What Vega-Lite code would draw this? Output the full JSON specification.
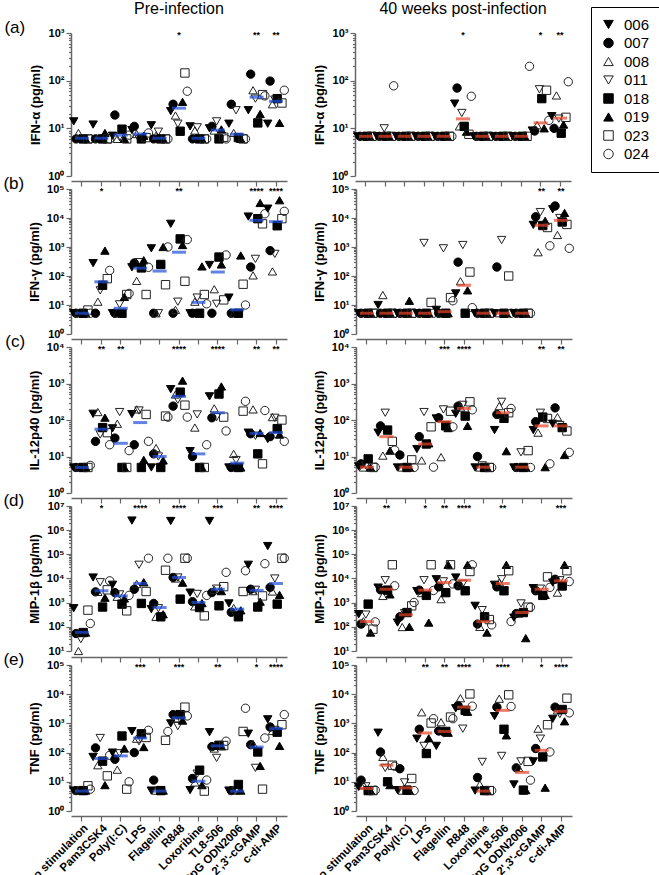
{
"$schema": "https://vega.github.io/schema/vega-lite/v6.json",
"background": "white",
"padding": {"left": 3, "top": 1, "right": 1, "bottom": 18},
"spacing": -12,
"datasets": {"d": [
{"r":"a","t":"Pre-infection","s":"no stimulation","006":14,"007":6,"008":8,"011":6,"018":6,"019":6,"023":6,"024":6,"m":6.2,"g":""},
{"r":"a","t":"Pre-infection","s":"Pam3CSK4","006":12,"007":6,"008":6,"011":6,"018":6,"019":8,"023":6,"024":6,"m":6.2,"g":""},
{"r":"a","t":"Pre-infection","s":"Poly(I:C)","006":7,"007":19,"008":6,"011":6.5,"018":9.6,"019":6,"023":6,"024":7.2,"m":7.2,"g":""},
{"r":"a","t":"Pre-infection","s":"LPS","006":9.2,"007":11,"008":7.6,"011":6,"018":6,"019":7,"023":6.4,"024":8,"m":7.6,"g":""},
{"r":"a","t":"Pre-infection","s":"Flagellin","006":11.6,"007":6,"008":7,"011":8.5,"018":6,"019":6,"023":6,"024":6,"m":6.2,"g":""},
{"r":"a","t":"Pre-infection","s":"R848","006":23,"007":32,"008":18.6,"011":12.5,"018":8.7,"019":36,"023":145,"024":60,"m":26.5,"g":"*"},
{"r":"a","t":"Pre-infection","s":"Loxoribine","006":11,"007":6,"008":9,"011":10.5,"018":6,"019":6,"023":6,"024":6,"m":6.2,"g":""},
{"r":"a","t":"Pre-infection","s":"TL8-506","006":10,"007":11,"008":9,"011":14,"018":6,"019":9.5,"023":6.5,"024":6,"m":9.2,"g":""},
{"r":"a","t":"Pre-infection","s":"CpG ODN2006","006":12.5,"007":32,"008":8,"011":24,"018":6.4,"019":6,"023":6,"024":6,"m":7.5,"g":""},
{"r":"a","t":"Pre-infection","s":"2',3'-cGAMP","006":24,"007":137,"008":63,"011":42,"018":13,"019":20,"023":51,"024":48,"m":45,"g":"**"},
{"r":"a","t":"Pre-infection","s":"c-di-AMP","006":12.5,"007":98,"008":32,"011":40,"018":42,"019":13,"023":34,"024":63,"m":37,"g":"**"},
{"r":"a","t":"40 weeks post-infection","s":"no stimulation","006":6.8,"007":6.8,"008":6.8,"011":6.8,"018":6.8,"019":6.8,"023":6.8,"024":6.8,"m":6.8,"g":""},
{"r":"a","t":"40 weeks post-infection","s":"Pam3CSK4","006":6.8,"007":6.8,"008":6.8,"011":10,"018":6.8,"019":6.8,"023":6.8,"024":78,"m":6.8,"g":""},
{"r":"a","t":"40 weeks post-infection","s":"Poly(I:C)","006":6.8,"007":6.8,"008":6.8,"011":6.8,"018":6.8,"019":6.8,"023":6.8,"024":6.8,"m":6.8,"g":""},
{"r":"a","t":"40 weeks post-infection","s":"LPS","006":6.8,"007":6.8,"008":6.8,"011":6.8,"018":6.8,"019":6.8,"023":6.8,"024":6.8,"m":6.8,"g":""},
{"r":"a","t":"40 weeks post-infection","s":"Flagellin","006":6.8,"007":6.8,"008":6.8,"011":6.8,"018":6.8,"019":6.8,"023":6.8,"024":6.8,"m":6.8,"g":""},
{"r":"a","t":"40 weeks post-infection","s":"R848","006":33,"007":70,"008":11,"011":21,"018":11,"019":8.5,"023":7.5,"024":47,"m":15.8,"g":"*"},
{"r":"a","t":"40 weeks post-infection","s":"Loxoribine","006":6.8,"007":6.8,"008":6.8,"011":6.8,"018":6.8,"019":6.8,"023":6.8,"024":6.8,"m":6.8,"g":""},
{"r":"a","t":"40 weeks post-infection","s":"TL8-506","006":6.8,"007":6.8,"008":6.8,"011":6.8,"018":6.8,"019":6.8,"023":6.8,"024":6.8,"m":6.8,"g":""},
{"r":"a","t":"40 weeks post-infection","s":"CpG ODN2006","006":6.8,"007":6.8,"008":6.8,"011":6.8,"018":6.8,"019":6.8,"023":6.8,"024":200,"m":6.8,"g":""},
{"r":"a","t":"40 weeks post-infection","s":"2',3'-cGAMP","006":9,"007":8.8,"008":11.6,"011":66,"018":42,"019":10,"023":63,"024":14.7,"m":13,"g":"*"},
{"r":"a","t":"40 weeks post-infection","s":"c-di-AMP","006":18,"007":10,"008":49,"011":16,"018":7.9,"019":12,"023":17,"024":95,"m":16.4,"g":"**"},
{"r":"b","t":"Pre-infection","s":"no stimulation","006":5.2,"007":5.2,"008":5.2,"011":5.2,"018":5.2,"019":5.2,"023":6.7,"024":5.2,"m":5.2,"g":""},
{"r":"b","t":"Pre-infection","s":"Pam3CSK4","006":277,"007":5.2,"008":13,"011":32,"018":48,"019":750,"023":81,"024":156,"m":63,"g":"*"},
{"r":"b","t":"Pre-infection","s":"Poly(I:C)","006":5.2,"007":5.2,"008":5.2,"011":10.5,"018":5.2,"019":19,"023":23,"024":25,"m":7.7,"g":""},
{"r":"b","t":"Pre-infection","s":"LPS","006":200,"007":280,"008":68,"011":300,"018":190,"019":350,"023":23,"024":200,"m":187,"g":""},
{"r":"b","t":"Pre-infection","s":"Flagellin","006":900,"007":5.2,"008":5.2,"011":5.2,"018":250,"019":1000,"023":50,"024":1000,"m":148,"g":""},
{"r":"b","t":"Pre-infection","s":"R848","006":6300,"007":5.2,"008":6.8,"011":13,"018":1900,"019":1170,"023":66,"024":1800,"m":660,"g":"**"},
{"r":"b","t":"Pre-infection","s":"Loxoribine","006":5.2,"007":5.2,"008":13,"011":18,"018":5.2,"019":214,"023":23,"024":11,"m":12.3,"g":""},
{"r":"b","t":"Pre-infection","s":"TL8-506","006":240,"007":5.2,"008":35,"011":11,"018":450,"019":250,"023":15,"024":530,"m":137,"g":""},
{"r":"b","t":"Pre-infection","s":"CpG ODN2006","006":18,"007":5.2,"008":5.2,"011":5.2,"018":5.2,"019":510,"023":52,"024":10,"m":6.8,"g":""},
{"r":"b","t":"Pre-infection","s":"2',3'-cGAMP","006":11200,"007":204,"008":105,"011":390,"018":9500,"019":33000,"023":6300,"024":14000,"m":8300,"g":"****"},
{"r":"b","t":"Pre-infection","s":"c-di-AMP","006":21000,"007":750,"008":144,"011":580,"018":5400,"019":41000,"023":9500,"024":17000,"m":7500,"g":"****"},
{"r":"b","t":"40 weeks post-infection","s":"no stimulation","006":5.2,"007":5.2,"008":5.2,"011":5.2,"018":5.2,"019":5.2,"023":5.2,"024":5.2,"m":5.2,"g":""},
{"r":"b","t":"40 weeks post-infection","s":"Pam3CSK4","006":10,"007":5.2,"008":22,"011":5.2,"018":5.2,"019":5.2,"023":5.2,"024":5.2,"m":5.2,"g":""},
{"r":"b","t":"40 weeks post-infection","s":"Poly(I:C)","006":5.2,"007":5.2,"008":5.2,"011":5.2,"018":5.2,"019":14,"023":5.2,"024":5.2,"m":5.2,"g":""},
{"r":"b","t":"40 weeks post-infection","s":"LPS","006":5.2,"007":5.2,"008":5.2,"011":1380,"018":5.2,"019":5.2,"023":12.3,"024":5.2,"m":5.2,"g":""},
{"r":"b","t":"40 weeks post-infection","s":"Flagellin","006":6.8,"007":5.2,"008":5.2,"011":900,"018":5.2,"019":5.2,"023":18,"024":14,"m":5.9,"g":""},
{"r":"b","t":"40 weeks post-infection","s":"R848","006":25,"007":300,"008":66,"011":1170,"018":5.2,"019":32,"023":137,"024":8.1,"m":48,"g":""},
{"r":"b","t":"40 weeks post-infection","s":"Loxoribine","006":5.2,"007":5.2,"008":5.2,"011":5.2,"018":5.2,"019":5.2,"023":5.2,"024":5.2,"m":5.2,"g":""},
{"r":"b","t":"40 weeks post-infection","s":"TL8-506","006":5.2,"007":204,"008":5.2,"011":1740,"018":5.2,"019":5.2,"023":100,"024":5.2,"m":5.2,"g":""},
{"r":"b","t":"40 weeks post-infection","s":"CpG ODN2006","006":5.2,"007":5.2,"008":5.2,"011":5.2,"018":5.2,"019":5.2,"023":5.2,"024":5.2,"m":5.2,"g":""},
{"r":"b","t":"40 weeks post-infection","s":"2',3'-cGAMP","006":5800,"007":11000,"008":660,"011":16000,"018":5500,"019":8000,"023":4700,"024":1100,"m":5600,"g":"**"},
{"r":"b","t":"40 weeks post-infection","s":"c-di-AMP","006":20000,"007":26000,"008":2600,"011":10000,"018":7300,"019":15000,"023":6000,"024":900,"m":8300,"g":"**"},
{"r":"c","t":"Pre-infection","s":"no stimulation","006":5,"007":5,"008":5,"011":5,"018":5,"019":5,"023":5,"024":5.7,"m":5,"g":""},
{"r":"c","t":"Pre-infection","s":"Pam3CSK4","006":148,"007":26,"008":165,"011":40,"018":62,"019":116,"023":45,"024":21,"m":56,"g":"**"},
{"r":"c","t":"Pre-infection","s":"Poly(I:C)","006":59,"007":32,"008":79,"011":165,"018":5,"019":5,"023":5,"024":14.5,"m":23,"g":"**"},
{"r":"c","t":"Pre-infection","s":"LPS","006":145,"007":21,"008":195,"011":182,"018":5,"019":8.1,"023":142,"024":26,"m":85,"g":""},
{"r":"c","t":"Pre-infection","s":"Flagellin","006":5,"007":11.8,"008":17,"011":10,"018":5,"019":7.8,"023":128,"024":120,"m":10,"g":""},
{"r":"c","t":"Pre-infection","s":"R848","006":700,"007":240,"008":500,"011":360,"018":580,"019":1200,"023":255,"024":120,"m":445,"g":"****"},
{"r":"c","t":"Pre-infection","s":"Loxoribine","006":14,"007":10,"008":62,"011":142,"018":5,"019":5,"023":5,"024":21,"m":11.8,"g":""},
{"r":"c","t":"Pre-infection","s":"TL8-506","006":445,"007":115,"008":208,"011":120,"018":515,"019":830,"023":120,"024":50,"m":158,"g":"****"},
{"r":"c","t":"Pre-infection","s":"CpG ODN2006","006":5,"007":5,"008":11.8,"011":8,"018":5,"019":5,"023":175,"024":325,"m":6.6,"g":""},
{"r":"c","t":"Pre-infection","s":"2',3'-cGAMP","006":45,"007":42,"008":195,"011":37,"018":11.8,"019":44,"023":6.3,"024":182,"m":43,"g":"**"},
{"r":"c","t":"Pre-infection","s":"c-di-AMP","006":30,"007":35,"008":120,"011":115,"018":58,"019":40,"023":100,"024":26,"m":45,"g":"**"},
{"r":"c","t":"40 weeks post-infection","s":"no stimulation","006":5.3,"007":6.3,"008":5,"011":5.7,"018":8.6,"019":5,"023":5,"024":5.1,"m":5.1,"g":""},
{"r":"c","t":"40 weeks post-infection","s":"Pam3CSK4","006":45,"007":69,"008":10.6,"011":158,"018":53,"019":14.5,"023":26,"024":15,"m":35,"g":""},
{"r":"c","t":"40 weeks post-infection","s":"Poly(I:C)","006":5,"007":11,"008":5,"011":5,"018":5,"019":5,"023":8.1,"024":5,"m":5.1,"g":""},
{"r":"c","t":"40 weeks post-infection","s":"LPS","006":16,"007":35,"008":7.8,"011":165,"018":22,"019":23,"023":65,"024":5.1,"m":22,"g":""},
{"r":"c","t":"40 weeks post-infection","s":"Flagellin","006":110,"007":115,"008":9.6,"011":195,"018":69,"019":60,"023":174,"024":65,"m":90,"g":"***"},
{"r":"c","t":"40 weeks post-infection","s":"R848","006":148,"007":240,"008":220,"011":260,"018":128,"019":69,"023":315,"024":190,"m":207,"g":"****"},
{"r":"c","t":"40 weeks post-infection","s":"Loxoribine","006":5,"007":10,"008":5,"011":5.7,"018":5,"019":5,"023":5,"024":5,"m":5.1,"g":""},
{"r":"c","t":"40 weeks post-infection","s":"TL8-506","006":53,"007":142,"008":240,"011":315,"018":111,"019":14,"023":158,"024":207,"m":158,"g":""},
{"r":"c","t":"40 weeks post-infection","s":"CpG ODN2006","006":5,"007":5,"008":5,"011":13,"018":5,"019":5,"023":14.5,"024":5,"m":5.1,"g":""},
{"r":"c","t":"40 weeks post-infection","s":"2',3'-cGAMP","006":53,"007":90,"008":45,"011":158,"018":120,"019":5.1,"023":110,"024":6.3,"m":69,"g":"**"},
{"r":"c","t":"40 weeks post-infection","s":"c-di-AMP","006":79,"007":215,"008":120,"011":73,"018":62,"019":11,"023":50,"024":13,"m":69,"g":"**"},
{"r":"d","t":"Pre-infection","s":"no stimulation","006":590,"007":53,"008":10,"011":31,"018":58,"019":58,"023":490,"024":138,"m":59,"g":""},
{"r":"d","t":"Pre-infection","s":"Pam3CSK4","006":11000,"007":2800,"008":2800,"011":7000,"018":660,"019":1600,"023":3400,"024":8000,"m":3100,"g":"*"},
{"r":"d","t":"Pre-infection","s":"Poly(I:C)","006":5500,"007":2600,"008":1750,"011":2200,"018":870,"019":1500,"023":460,"024":2000,"m":1900,"g":""},
{"r":"d","t":"Pre-infection","s":"LPS","006":2500000,"007":3600,"008":5900,"011":37000,"018":930,"019":7000,"023":2900,"024":69000,"m":6200,"g":"****"},
{"r":"d","t":"Pre-infection","s":"Flagellin","006":540,"007":930,"008":260,"011":590,"018":260,"019":330,"023":22000,"024":69000,"m":630,"g":""},
{"r":"d","t":"Pre-infection","s":"R848","006":2400000,"007":11000,"008":10000,"011":11000,"018":1400,"019":6700,"023":69000,"024":69000,"m":11000,"g":"****"},
{"r":"d","t":"Pre-infection","s":"Loxoribine","006":2600,"007":1100,"008":700,"011":2300,"018":630,"019":960,"023":285,"024":2000,"m":1020,"g":""},
{"r":"d","t":"Pre-infection","s":"TL8-506","006":2400000,"007":2600,"008":3400,"011":3800,"018":740,"019":3000,"023":4600,"024":18000,"m":3600,"g":"***"},
{"r":"d","t":"Pre-infection","s":"CpG ODN2006","006":930,"007":400,"008":600,"011":300,"018":260,"019":480,"023":2900,"024":21000,"m":540,"g":""},
{"r":"d","t":"Pre-infection","s":"2',3'-cGAMP","006":37000,"007":3600,"008":3000,"011":3400,"018":660,"019":1100,"023":1900,"024":41000,"m":3200,"g":"**"},
{"r":"d","t":"Pre-infection","s":"c-di-AMP","006":220000,"007":4300,"008":2900,"011":10000,"018":870,"019":2100,"023":69000,"024":69000,"m":6200,"g":"****"},
{"r":"d","t":"40 weeks post-infection","s":"no stimulation","006":335,"007":130,"008":170,"011":320,"018":870,"019":58,"023":80,"024":160,"m":165,"g":""},
{"r":"d","t":"40 weeks post-infection","s":"Pam3CSK4","006":4200,"007":3400,"008":1900,"011":8500,"018":3300,"019":2200,"023":37000,"024":5000,"m":3600,"g":"**"},
{"r":"d","t":"40 weeks post-infection","s":"Poly(I:C)","006":150,"007":260,"008":98,"011":370,"018":390,"019":100,"023":740,"024":1020,"m":315,"g":""},
{"r":"d","t":"40 weeks post-infection","s":"LPS","006":3000,"007":3300,"008":2500,"011":8500,"018":2000,"019":150,"023":37000,"024":3200,"m":3300,"g":"*"},
{"r":"d","t":"40 weeks post-infection","s":"Flagellin","006":9300,"007":4500,"008":1400,"011":7600,"018":2600,"019":37000,"023":37000,"024":6000,"m":6800,"g":"**"},
{"r":"d","t":"40 weeks post-infection","s":"R848","006":11000,"007":5000,"008":5800,"011":6000,"018":3100,"019":37000,"023":19500,"024":37000,"m":8500,"g":"****"},
{"r":"d","t":"40 weeks post-infection","s":"Loxoribine","006":740,"007":130,"008":100,"011":490,"018":260,"019":58,"023":200,"024":120,"m":165,"g":""},
{"r":"d","t":"40 weeks post-infection","s":"TL8-506","006":5500,"007":4500,"008":6900,"011":9300,"018":3100,"019":37000,"023":21000,"024":165,"m":6200,"g":"**"},
{"r":"d","t":"40 weeks post-infection","s":"CpG ODN2006","006":240,"007":355,"008":355,"011":930,"018":390,"019":34,"023":650,"024":650,"m":390,"g":""},
{"r":"d","t":"40 weeks post-infection","s":"2',3'-cGAMP","006":4000,"007":3100,"008":3200,"011":3800,"018":2000,"019":2100,"023":11700,"024":4300,"m":3600,"g":""},
{"r":"d","t":"40 weeks post-infection","s":"c-di-AMP","006":6800,"007":9300,"008":2600,"011":8500,"018":4900,"019":37000,"023":21000,"024":7500,"m":8000,"g":"***"},
{"r":"e","t":"Pre-infection","s":"no stimulation","006":5,"007":5,"008":5,"011":5,"018":5,"019":5,"023":7.3,"024":5.6,"m":4.8,"g":""},
{"r":"e","t":"Pre-infection","s":"Pam3CSK4","006":71,"007":145,"008":37,"011":316,"018":51,"019":7.7,"023":16,"024":81,"m":63,"g":""},
{"r":"e","t":"Pre-infection","s":"Poly(I:C)","006":100,"007":59,"008":26,"011":95,"018":370,"019":138,"023":5.6,"024":10,"m":77,"g":""},
{"r":"e","t":"Pre-infection","s":"LPS","006":540,"007":100,"008":300,"011":245,"018":440,"019":155,"023":330,"024":580,"m":316,"g":"***"},
{"r":"e","t":"Pre-infection","s":"Flagellin","006":5,"007":11.4,"008":5,"011":5,"018":5,"019":5,"023":263,"024":530,"m":4.8,"g":""},
{"r":"e","t":"Pre-infection","s":"R848","006":1000,"007":2000,"008":1500,"011":810,"018":2000,"019":1250,"023":3600,"024":1800,"m":1550,"g":"***"},
{"r":"e","t":"Pre-infection","s":"Loxoribine","006":5.2,"007":13,"008":9.5,"011":19,"018":25,"019":7.7,"023":4.8,"024":11.5,"m":10.5,"g":""},
{"r":"e","t":"Pre-infection","s":"TL8-506","006":500,"007":160,"008":138,"011":66,"018":178,"019":165,"023":175,"024":245,"m":170,"g":"**"},
{"r":"e","t":"Pre-infection","s":"CpG ODN2006","006":5,"007":5,"008":5,"011":5,"018":8.1,"019":5,"023":530,"024":3300,"m":4.8,"g":""},
{"r":"e","t":"Pre-infection","s":"2',3'-cGAMP","006":445,"007":187,"008":200,"011":30,"018":105,"019":35,"023":5.6,"024":316,"m":155,"g":"*"},
{"r":"e","t":"Pre-infection","s":"c-di-AMP","006":1380,"007":750,"008":550,"011":600,"018":500,"019":170,"023":900,"024":2000,"m":660,"g":"****"},
{"r":"e","t":"40 weeks post-infection","s":"no stimulation","006":6.7,"007":11.4,"008":7.7,"011":7,"018":5,"019":5,"023":5,"024":5.2,"m":5.9,"g":""},
{"r":"e","t":"40 weeks post-infection","s":"Pam3CSK4","006":480,"007":105,"008":71,"011":30,"018":10,"019":7.7,"023":37,"024":34,"m":37,"g":""},
{"r":"e","t":"40 weeks post-infection","s":"Poly(I:C)","006":5.2,"007":28,"008":5,"011":9.5,"018":5.2,"019":5,"023":13,"024":5,"m":6.2,"g":""},
{"r":"e","t":"40 weeks post-infection","s":"LPS","006":300,"007":630,"008":2400,"011":170,"018":93,"019":310,"023":1030,"024":1450,"m":470,"g":"**"},
{"r":"e","t":"40 weeks post-infection","s":"Flagellin","006":170,"007":550,"008":1100,"011":450,"018":530,"019":480,"023":1650,"024":1450,"m":530,"g":"**"},
{"r":"e","t":"40 weeks post-infection","s":"R848","006":3300,"007":4100,"008":7300,"011":660,"018":2800,"019":2500,"023":10200,"024":3900,"m":3600,"g":"****"},
{"r":"e","t":"40 weeks post-infection","s":"Loxoribine","006":5,"007":14,"008":8.1,"011":48,"018":5,"019":5,"023":5,"024":5,"m":4.8,"g":""},
{"r":"e","t":"40 weeks post-infection","s":"TL8-506","006":1780,"007":3600,"008":7000,"011":77,"018":630,"019":390,"023":9500,"024":3800,"m":2800,"g":"****"},
{"r":"e","t":"40 weeks post-infection","s":"CpG ODN2006","006":8.1,"007":30,"008":30,"011":50,"018":5.2,"019":5.2,"023":50,"024":11.4,"m":21,"g":""},
{"r":"e","t":"40 weeks post-infection","s":"2',3'-cGAMP","006":50,"007":138,"008":660,"011":300,"018":71,"019":6.3,"023":900,"024":105,"m":120,"g":"*"},
{"r":"e","t":"40 weeks post-infection","s":"c-di-AMP","006":1440,"007":3600,"008":2800,"011":2100,"018":3000,"019":1180,"023":7300,"024":2300,"m":2600,"g":"****"}
]},
"vconcat": [
{"data": {"name": "d"}, "transform": [{"filter": "datum.r == 'a'"}],
 "facet": {"row": {"field": "r", "type": "nominal", "title": null, "header": {"labelExpr": "'(' + datum.value + ')'", "labelAngle": 0, "labelAnchor": "end", "labelBaseline": "alphabetic", "labelFontSize": 17, "labelPadding": -17}},
           "column": {"field": "t", "type": "nominal", "sort": ["Pre-infection", "40 weeks post-infection"], "title": null, "header": {"labelFontSize": 16, "labelPadding": 10}}},
 "spacing": {"row": 0, "column": 22},
 "resolve": {"axis": {"y": "independent"}},
 "spec": {"width": 216, "height": 143, "layer": [
  {"transform": [{"fold": ["006","007","008","011","018","019","023","024"], "as": ["id","v"]}],
   "mark": {"type": "point", "size": 70, "strokeWidth": 1, "opacity": 1},
   "encoding": {
    "x": {"field": "s", "type": "nominal", "scale": {"domain": ["no stimulation","Pam3CSK4","Poly(I:C)","LPS","Flagellin","R848","Loxoribine","TL8-506","CpG ODN2006","2',3'-cGAMP","c-di-AMP"], "paddingInner": 0, "paddingOuter": 0.067}, "axis": {"title": null, "labels": false, "tickSize": 5}},
    "xOffset": {"field": "id", "type": "nominal", "scale": {"paddingOuter": 0.6}},
    "y": {"field": "v", "type": "quantitative", "title": "IFN-α (pg/ml)", "scale": {"type": "log", "domain": [1, 1000], "nice": false},
          "axis": {"values": [1,2,3,4,5,6,7,8,9,10,20,30,40,50,60,70,80,90,100,200,300,400,500,600,700,800,900,1000],
                   "labelExpr": "abs(log(datum.value)/LN10-round(log(datum.value)/LN10))<1e-6 ? '10'+['⁰','¹','²','³','⁴','⁵','⁶','⁷'][round(log(datum.value)/LN10)] : ''",
                   "tickSize": {"condition": {"test": "abs(log(datum.value)/LN10-round(log(datum.value)/LN10))<1e-6", "value": 5}, "value": 2.5}}},
    "shape": {"field": "id", "type": "nominal", "scale": {"domain": ["006","007","008","011","018","019","023","024"], "range": ["triangle-down","circle","triangle-up","triangle-down","square","triangle-up","square","circle"]}, "legend": {"title": null}},
    "fill": {"field": "id", "type": "nominal", "scale": {"domain": ["006","007","008","011","018","019","023","024"], "range": ["black","black","transparent","transparent","black","black","transparent","transparent"]}, "legend": {"title": null}},
    "stroke": {"field": "id", "type": "nominal", "scale": {"domain": ["006","007","008","011","018","019","023","024"], "range": ["black","black","#222","#222","black","black","#222","#222"]}, "legend": {"title": null}}
   }},
  {"mark": {"type": "tick", "thickness": 3, "size": 14},
   "encoding": {"x": {"field": "s", "type": "nominal"}, "y": {"field": "m", "type": "quantitative", "title": "IFN-α (pg/ml)"},
    "color": {"field": "t", "type": "nominal", "scale": {"domain": ["Pre-infection","40 weeks post-infection"], "range": ["#1f4fd8","#e8442a"]}, "legend": null}}},
  {"transform": [{"filter": "datum.g != ''"}],
   "mark": {"type": "text", "fontSize": 9, "fontWeight": "bold", "baseline": "middle", "dy": 2},
   "encoding": {"x": {"field": "s", "type": "nominal"}, "y": {"datum": 1000, "title": "IFN-α (pg/ml)"}, "text": {"field": "g"}}}
 ]}},
{"data": {"name": "d"}, "transform": [{"filter": "datum.r == 'b'"}],
 "facet": {"row": {"field": "r", "type": "nominal", "title": null, "header": {"labelExpr": "'(' + datum.value + ')'", "labelAngle": 0, "labelAnchor": "end", "labelBaseline": "alphabetic", "labelFontSize": 17, "labelPadding": -17}},
           "column": {"field": "t", "type": "nominal", "sort": ["Pre-infection", "40 weeks post-infection"], "title": null, "header": {"labels": false}}},
 "spacing": {"row": 0, "column": 22},
 "resolve": {"axis": {"y": "independent"}},
 "spec": {"width": 216, "height": 145, "layer": [
  {"transform": [{"fold": ["006","007","008","011","018","019","023","024"], "as": ["id","v"]}],
   "mark": {"type": "point", "size": 70, "strokeWidth": 1, "opacity": 1},
   "encoding": {
    "x": {"field": "s", "type": "nominal", "scale": {"domain": ["no stimulation","Pam3CSK4","Poly(I:C)","LPS","Flagellin","R848","Loxoribine","TL8-506","CpG ODN2006","2',3'-cGAMP","c-di-AMP"], "paddingInner": 0, "paddingOuter": 0.067}, "axis": {"title": null, "labels": false, "tickSize": 5}},
    "xOffset": {"field": "id", "type": "nominal", "scale": {"paddingOuter": 0.6}},
    "y": {"field": "v", "type": "quantitative", "title": "IFN-γ (pg/ml)", "scale": {"type": "log", "domain": [1, 100000], "nice": false},
          "axis": {"values": [1,2,3,4,5,6,7,8,9,10,20,30,40,50,60,70,80,90,100,200,300,400,500,600,700,800,900,1000,2000,3000,4000,5000,6000,7000,8000,9000,10000,20000,30000,40000,50000,60000,70000,80000,90000,100000],
                   "labelExpr": "abs(log(datum.value)/LN10-round(log(datum.value)/LN10))<1e-6 ? '10'+['⁰','¹','²','³','⁴','⁵','⁶','⁷'][round(log(datum.value)/LN10)] : ''",
                   "tickSize": {"condition": {"test": "abs(log(datum.value)/LN10-round(log(datum.value)/LN10))<1e-6", "value": 5}, "value": 2.5}}},
    "shape": {"field": "id", "type": "nominal", "legend": {"title": null}},
    "fill": {"field": "id", "type": "nominal", "legend": {"title": null}},
    "stroke": {"field": "id", "type": "nominal", "legend": {"title": null}}
   }},
  {"mark": {"type": "tick", "thickness": 3, "size": 14},
   "encoding": {"x": {"field": "s", "type": "nominal"}, "y": {"field": "m", "type": "quantitative", "title": "IFN-γ (pg/ml)"},
    "color": {"field": "t", "type": "nominal", "legend": null}}},
  {"transform": [{"filter": "datum.g != ''"}],
   "mark": {"type": "text", "fontSize": 9, "fontWeight": "bold", "baseline": "middle", "dy": 2},
   "encoding": {"x": {"field": "s", "type": "nominal"}, "y": {"datum": 100000, "title": "IFN-γ (pg/ml)"}, "text": {"field": "g"}}}
 ]}},
{"data": {"name": "d"}, "transform": [{"filter": "datum.r == 'c'"}],
 "facet": {"row": {"field": "r", "type": "nominal", "title": null, "header": {"labelExpr": "'(' + datum.value + ')'", "labelAngle": 0, "labelAnchor": "end", "labelBaseline": "alphabetic", "labelFontSize": 17, "labelPadding": -17}},
           "column": {"field": "t", "type": "nominal", "sort": ["Pre-infection", "40 weeks post-infection"], "title": null, "header": {"labels": false}}},
 "spacing": {"row": 0, "column": 22},
 "resolve": {"axis": {"y": "independent"}},
 "spec": {"width": 216, "height": 146, "layer": [
  {"transform": [{"fold": ["006","007","008","011","018","019","023","024"], "as": ["id","v"]}],
   "mark": {"type": "point", "size": 70, "strokeWidth": 1, "opacity": 1},
   "encoding": {
    "x": {"field": "s", "type": "nominal", "scale": {"domain": ["no stimulation","Pam3CSK4","Poly(I:C)","LPS","Flagellin","R848","Loxoribine","TL8-506","CpG ODN2006","2',3'-cGAMP","c-di-AMP"], "paddingInner": 0, "paddingOuter": 0.067}, "axis": {"title": null, "labels": false, "tickSize": 5}},
    "xOffset": {"field": "id", "type": "nominal", "scale": {"paddingOuter": 0.6}},
    "y": {"field": "v", "type": "quantitative", "title": "IL-12p40 (pg/ml)", "scale": {"type": "log", "domain": [1, 10000], "nice": false},
          "axis": {"values": [1,2,3,4,5,6,7,8,9,10,20,30,40,50,60,70,80,90,100,200,300,400,500,600,700,800,900,1000,2000,3000,4000,5000,6000,7000,8000,9000,10000],
                   "labelExpr": "abs(log(datum.value)/LN10-round(log(datum.value)/LN10))<1e-6 ? '10'+['⁰','¹','²','³','⁴','⁵','⁶','⁷'][round(log(datum.value)/LN10)] : ''",
                   "tickSize": {"condition": {"test": "abs(log(datum.value)/LN10-round(log(datum.value)/LN10))<1e-6", "value": 5}, "value": 2.5}}},
    "shape": {"field": "id", "type": "nominal", "legend": {"title": null}},
    "fill": {"field": "id", "type": "nominal", "legend": {"title": null}},
    "stroke": {"field": "id", "type": "nominal", "legend": {"title": null}}
   }},
  {"mark": {"type": "tick", "thickness": 3, "size": 14},
   "encoding": {"x": {"field": "s", "type": "nominal"}, "y": {"field": "m", "type": "quantitative", "title": "IL-12p40 (pg/ml)"},
    "color": {"field": "t", "type": "nominal", "legend": null}}},
  {"transform": [{"filter": "datum.g != ''"}],
   "mark": {"type": "text", "fontSize": 9, "fontWeight": "bold", "baseline": "middle", "dy": 2},
   "encoding": {"x": {"field": "s", "type": "nominal"}, "y": {"datum": 10000, "title": "IL-12p40 (pg/ml)"}, "text": {"field": "g"}}}
 ]}},
{"data": {"name": "d"}, "transform": [{"filter": "datum.r == 'd'"}],
 "facet": {"row": {"field": "r", "type": "nominal", "title": null, "header": {"labelExpr": "'(' + datum.value + ')'", "labelAngle": 0, "labelAnchor": "end", "labelBaseline": "alphabetic", "labelFontSize": 17, "labelPadding": -17}},
           "column": {"field": "t", "type": "nominal", "sort": ["Pre-infection", "40 weeks post-infection"], "title": null, "header": {"labels": false}}},
 "spacing": {"row": 0, "column": 22},
 "resolve": {"axis": {"y": "independent"}},
 "spec": {"width": 216, "height": 145, "layer": [
  {"transform": [{"fold": ["006","007","008","011","018","019","023","024"], "as": ["id","v"]}],
   "mark": {"type": "point", "size": 70, "strokeWidth": 1, "opacity": 1},
   "encoding": {
    "x": {"field": "s", "type": "nominal", "scale": {"domain": ["no stimulation","Pam3CSK4","Poly(I:C)","LPS","Flagellin","R848","Loxoribine","TL8-506","CpG ODN2006","2',3'-cGAMP","c-di-AMP"], "paddingInner": 0, "paddingOuter": 0.067}, "axis": {"title": null, "labels": false, "tickSize": 5}},
    "xOffset": {"field": "id", "type": "nominal", "scale": {"paddingOuter": 0.6}},
    "y": {"field": "v", "type": "quantitative", "title": "MIP-1β (pg/ml)", "scale": {"type": "log", "domain": [10, 10000000], "nice": false},
          "axis": {"values": [10,20,30,40,50,60,70,80,90,100,200,300,400,500,600,700,800,900,1000,2000,3000,4000,5000,6000,7000,8000,9000,10000,20000,30000,40000,50000,60000,70000,80000,90000,100000,200000,300000,400000,500000,600000,700000,800000,900000,1000000,2000000,3000000,4000000,5000000,6000000,7000000,8000000,9000000,10000000],
                   "labelExpr": "abs(log(datum.value)/LN10-round(log(datum.value)/LN10))<1e-6 ? '10'+['⁰','¹','²','³','⁴','⁵','⁶','⁷'][round(log(datum.value)/LN10)] : ''",
                   "tickSize": {"condition": {"test": "abs(log(datum.value)/LN10-round(log(datum.value)/LN10))<1e-6", "value": 5}, "value": 2.5}}},
    "shape": {"field": "id", "type": "nominal", "legend": {"title": null}},
    "fill": {"field": "id", "type": "nominal", "legend": {"title": null}},
    "stroke": {"field": "id", "type": "nominal", "legend": {"title": null}}
   }},
  {"mark": {"type": "tick", "thickness": 3, "size": 14},
   "encoding": {"x": {"field": "s", "type": "nominal"}, "y": {"field": "m", "type": "quantitative", "title": "MIP-1β (pg/ml)"},
    "color": {"field": "t", "type": "nominal", "legend": null}}},
  {"transform": [{"filter": "datum.g != ''"}],
   "mark": {"type": "text", "fontSize": 9, "fontWeight": "bold", "baseline": "middle", "dy": 2},
   "encoding": {"x": {"field": "s", "type": "nominal"}, "y": {"datum": 10000000, "title": "MIP-1β (pg/ml)"}, "text": {"field": "g"}}}
 ]}},
{"data": {"name": "d"}, "transform": [{"filter": "datum.r == 'e'"}],
 "facet": {"row": {"field": "r", "type": "nominal", "title": null, "header": {"labelExpr": "'(' + datum.value + ')'", "labelAngle": 0, "labelAnchor": "end", "labelBaseline": "alphabetic", "labelFontSize": 17, "labelPadding": -17}},
           "column": {"field": "t", "type": "nominal", "sort": ["Pre-infection", "40 weeks post-infection"], "title": null, "header": {"labels": false}}},
 "spacing": {"row": 0, "column": 22},
 "resolve": {"axis": {"y": "independent"}},
 "spec": {"width": 216, "height": 146, "layer": [
  {"transform": [{"fold": ["006","007","008","011","018","019","023","024"], "as": ["id","v"]}],
   "mark": {"type": "point", "size": 70, "strokeWidth": 1, "opacity": 1},
   "encoding": {
    "x": {"field": "s", "type": "nominal", "scale": {"domain": ["no stimulation","Pam3CSK4","Poly(I:C)","LPS","Flagellin","R848","Loxoribine","TL8-506","CpG ODN2006","2',3'-cGAMP","c-di-AMP"], "paddingInner": 0, "paddingOuter": 0.067}, "axis": {"title": null, "labelAngle": -45, "labelFontSize": 11.5, "labelPadding": 1, "tickSize": 5}},
    "xOffset": {"field": "id", "type": "nominal", "scale": {"paddingOuter": 0.6}},
    "y": {"field": "v", "type": "quantitative", "title": "TNF (pg/ml)", "scale": {"type": "log", "domain": [1, 100000], "nice": false},
          "axis": {"values": [1,2,3,4,5,6,7,8,9,10,20,30,40,50,60,70,80,90,100,200,300,400,500,600,700,800,900,1000,2000,3000,4000,5000,6000,7000,8000,9000,10000,20000,30000,40000,50000,60000,70000,80000,90000,100000],
                   "labelExpr": "abs(log(datum.value)/LN10-round(log(datum.value)/LN10))<1e-6 ? '10'+['⁰','¹','²','³','⁴','⁵','⁶','⁷'][round(log(datum.value)/LN10)] : ''",
                   "tickSize": {"condition": {"test": "abs(log(datum.value)/LN10-round(log(datum.value)/LN10))<1e-6", "value": 5}, "value": 2.5}}},
    "shape": {"field": "id", "type": "nominal", "legend": {"title": null}},
    "fill": {"field": "id", "type": "nominal", "legend": {"title": null}},
    "stroke": {"field": "id", "type": "nominal", "legend": {"title": null}}
   }},
  {"mark": {"type": "tick", "thickness": 3, "size": 14},
   "encoding": {"x": {"field": "s", "type": "nominal"}, "y": {"field": "m", "type": "quantitative", "title": "TNF (pg/ml)"},
    "color": {"field": "t", "type": "nominal", "legend": null}}},
  {"transform": [{"filter": "datum.g != ''"}],
   "mark": {"type": "text", "fontSize": 9, "fontWeight": "bold", "baseline": "middle", "dy": 2},
   "encoding": {"x": {"field": "s", "type": "nominal"}, "y": {"datum": 100000, "title": "TNF (pg/ml)"}, "text": {"field": "g"}}}
 ]}}
],
"config": {
 "font": "Liberation Sans",
 "view": {"stroke": null},
 "axis": {"labelFont": "Liberation Sans", "labelFontWeight": "bold", "labelFontSize": 11, "labelColor": "black", "titleFont": "Liberation Sans", "titleFontWeight": "bold", "titleFontSize": 13, "titleColor": "black", "domainColor": "#666", "domainWidth": 1.5, "tickColor": "#666", "tickWidth": 1.2, "grid": false, "labelPadding": 2, "titlePadding": 5},
 "header": {"labelFont": "Liberation Sans", "labelColor": "black"},
 "legend": {"orient": "none", "legendX": 520, "legendY": -26, "strokeColor": "black", "padding": 10, "labelFont": "Liberation Sans", "labelFontSize": 15, "labelColor": "black", "symbolSize": 90, "symbolStrokeWidth": 1, "rowPadding": 2.5, "labelOffset": 8}
}
}
